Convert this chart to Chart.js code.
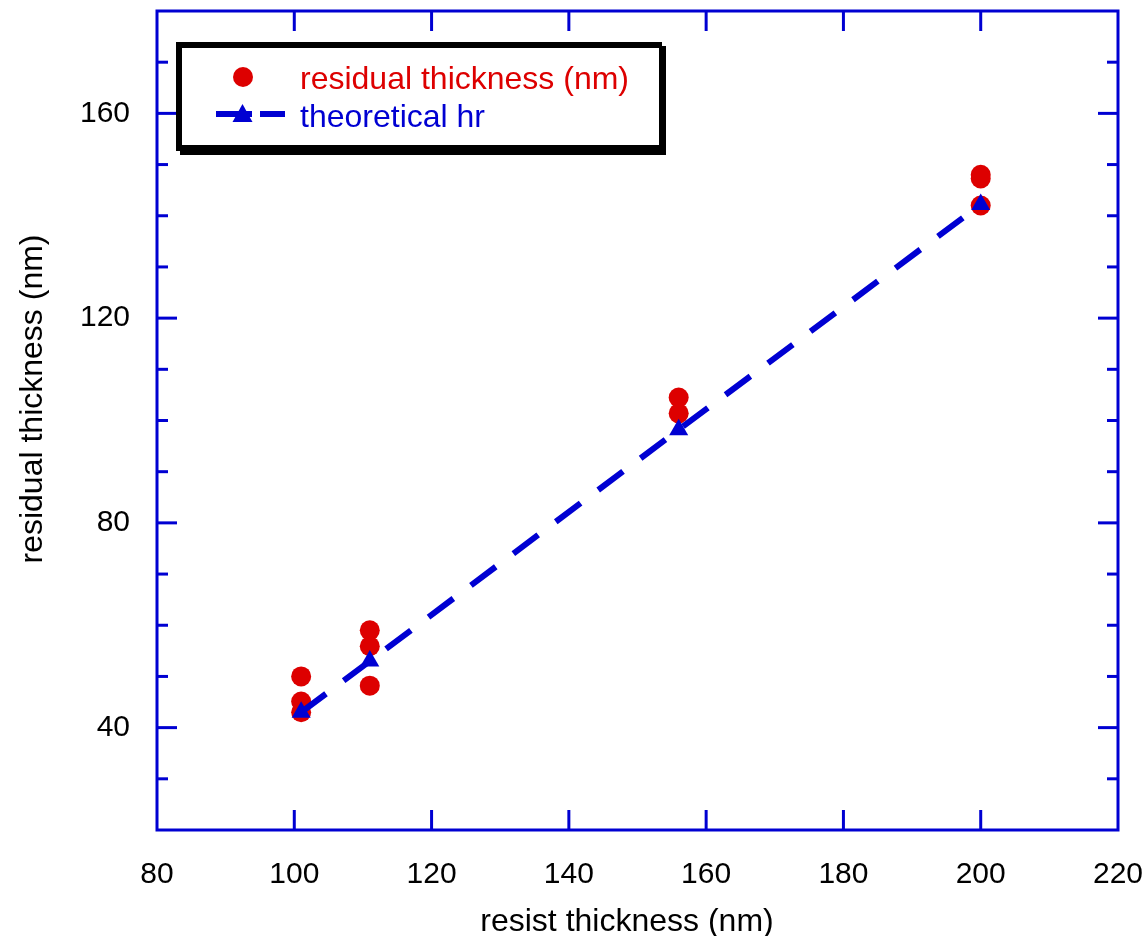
<!DOCTYPE html>
<html>
<head>
<meta charset="utf-8">
<script src="https://cdn.jsdelivr.net/npm/chart.js@4/dist/chart.umd.min.js"></script>
<style>
  html, body { margin: 0; padding: 0; background: #ffffff; }
  #c { display: block; }
</style>
</head>
<body>
<canvas id="c" width="1142" height="936"></canvas>
<script>
// ---- data ----
const residualX = [101, 101, 101, 111, 111, 111, 156, 156, 200, 200, 200];
const residualY = [50, 45.1, 43, 59, 55.9, 48.2, 104.5, 101.4, 148, 147.3, 142];
const theoryX = [101, 111, 156, 200];
const theoryY = [43, 53, 98.2, 142.2];
const xTicks = [80, 100, 120, 140, 160, 180, 200, 220];
const yLabelTicks = [40, 80, 120, 160];
const legendLabels = ['residual thickness (nm)', 'theoretical hr'];
const xTitle = 'resist thickness (nm)';
const yTitle = 'residual thickness (nm)';

const BLUE = '#0000d2';
const RED = '#dd0000';
const FONT = '"Liberation Sans", Arial, Helvetica, sans-serif';

const residualPts = residualX.map((x, i) => ({ x: x, y: residualY[i] }));
const theoryPts = theoryX.map((x, i) => ({ x: x, y: theoryY[i] }));

function seg(ctx, x1, y1, x2, y2) {
  ctx.beginPath(); ctx.moveTo(x1, y1); ctx.lineTo(x2, y2); ctx.stroke();
}

const decorPlugin = {
  id: 'decor',
  afterDraw(chart) {
    const { ctx, chartArea: a } = chart;
    const xs = chart.scales.x, ys = chart.scales.y;
    ctx.save();
    // frame
    ctx.strokeStyle = BLUE;
    ctx.lineWidth = 3;
    ctx.strokeRect(a.left, a.top, a.right - a.left, a.bottom - a.top);
    // inward ticks
    ctx.lineWidth = 3;
    xs.ticks.forEach(t => {
      const px = xs.getPixelForValue(t.value);
      if (px <= a.left + 2 || px >= a.right - 2) return;
      seg(ctx, px, a.bottom, px, a.bottom - 20);
      seg(ctx, px, a.top, px, a.top + 20);
    });
    ys.ticks.forEach(t => {
      const py = ys.getPixelForValue(t.value);
      if (py <= a.top + 2 || py >= a.bottom - 2) return;
      const len = yLabelTicks.includes(t.value) ? 20 : 11;
      seg(ctx, a.left, py, a.left + len, py);
      seg(ctx, a.right, py, a.right - len, py);
    });

    // axis titles
    ctx.fillStyle = '#000';
    ctx.font = '32px ' + FONT;
    ctx.textAlign = 'center';
    ctx.textBaseline = 'alphabetic';
    ctx.fillText(xTitle, 627, 931);
    ctx.save();
    ctx.translate(42, 399);
    ctx.rotate(-Math.PI / 2);
    ctx.fillText(yTitle, 0, 0);
    ctx.restore();

    // legend box with shadow
    ctx.fillStyle = '#000';
    ctx.fillRect(176, 42, 486, 109);
    ctx.fillRect(180, 46, 486, 109);
    ctx.fillStyle = '#fff';
    ctx.fillRect(182, 48, 477, 97);

    // legend item 1: red circle
    ctx.fillStyle = RED;
    ctx.beginPath(); ctx.arc(243, 77, 10, 0, Math.PI * 2); ctx.fill();
    // legend item 2: dashed blue line + triangle
    ctx.strokeStyle = BLUE;
    ctx.lineWidth = 6;
    seg(ctx, 216, 114, 252, 114);
    seg(ctx, 260, 114, 285, 114);
    ctx.fillStyle = BLUE;
    ctx.beginPath();
    ctx.moveTo(242.5, 104); ctx.lineTo(252.5, 122); ctx.lineTo(232.5, 122); ctx.closePath();
    ctx.fill();

    ctx.font = '32px ' + FONT;
    ctx.textAlign = 'left';
    ctx.fillStyle = RED;
    ctx.fillText(legendLabels[0], 300, 89);
    ctx.fillStyle = BLUE;
    ctx.fillText(legendLabels[1], 300, 127);
    ctx.restore();
  }
};

new Chart(document.getElementById('c'), {
  type: 'scatter',
  data: {
    datasets: [
      {
        label: legendLabels[1],
        data: theoryPts,
        showLine: true,
        borderColor: BLUE,
        borderWidth: 6,
        borderDash: [31, 22],
        backgroundColor: BLUE,
        pointStyle: 'triangle',
        pointRadius: 11,
        pointBorderWidth: 0,
        pointBackgroundColor: BLUE,
        order: 0
      },
      {
        label: legendLabels[0],
        data: residualPts,
        showLine: false,
        backgroundColor: RED,
        borderColor: RED,
        pointStyle: 'circle',
        pointRadius: 10,
        pointBorderWidth: 0,
        order: 1
      }
    ]
  },
  options: {
    responsive: false,
    animation: false,
    devicePixelRatio: 1,
    layout: { padding: { top: 9, right: 24, left: 0, bottom: 0 } },
    plugins: { legend: { display: false }, tooltip: { enabled: false } },
    scales: {
      x: {
        type: 'linear',
        min: 80, max: 220,
        grid: { display: false, drawTicks: false },
        border: { display: false },
        afterFit: s => { s.height = 106; s.paddingLeft = 0; s.paddingRight = 0; },
        afterBuildTicks: s => { s.ticks = xTicks.map(v => ({ value: v })); },
        ticks: {
          autoSkip: false,
          maxRotation: 0,
          padding: 27,
          color: '#000',
          font: { family: FONT, size: 30 },
          callback: v => String(v)
        }
      },
      y: {
        type: 'linear',
        min: 20, max: 180,
        grid: { display: false, drawTicks: false },
        border: { display: false },
        afterFit: s => { s.width = 157; s.paddingTop = 0; s.paddingBottom = 0; },
        ticks: {
          stepSize: 10,
          autoSkip: false,
          padding: 27,
          color: '#000',
          font: { family: FONT, size: 30 },
          callback: v => (yLabelTicks.includes(v) ? String(v) : '')
        }
      }
    }
  },
  plugins: [decorPlugin]
});
</script>
</body>
</html>
